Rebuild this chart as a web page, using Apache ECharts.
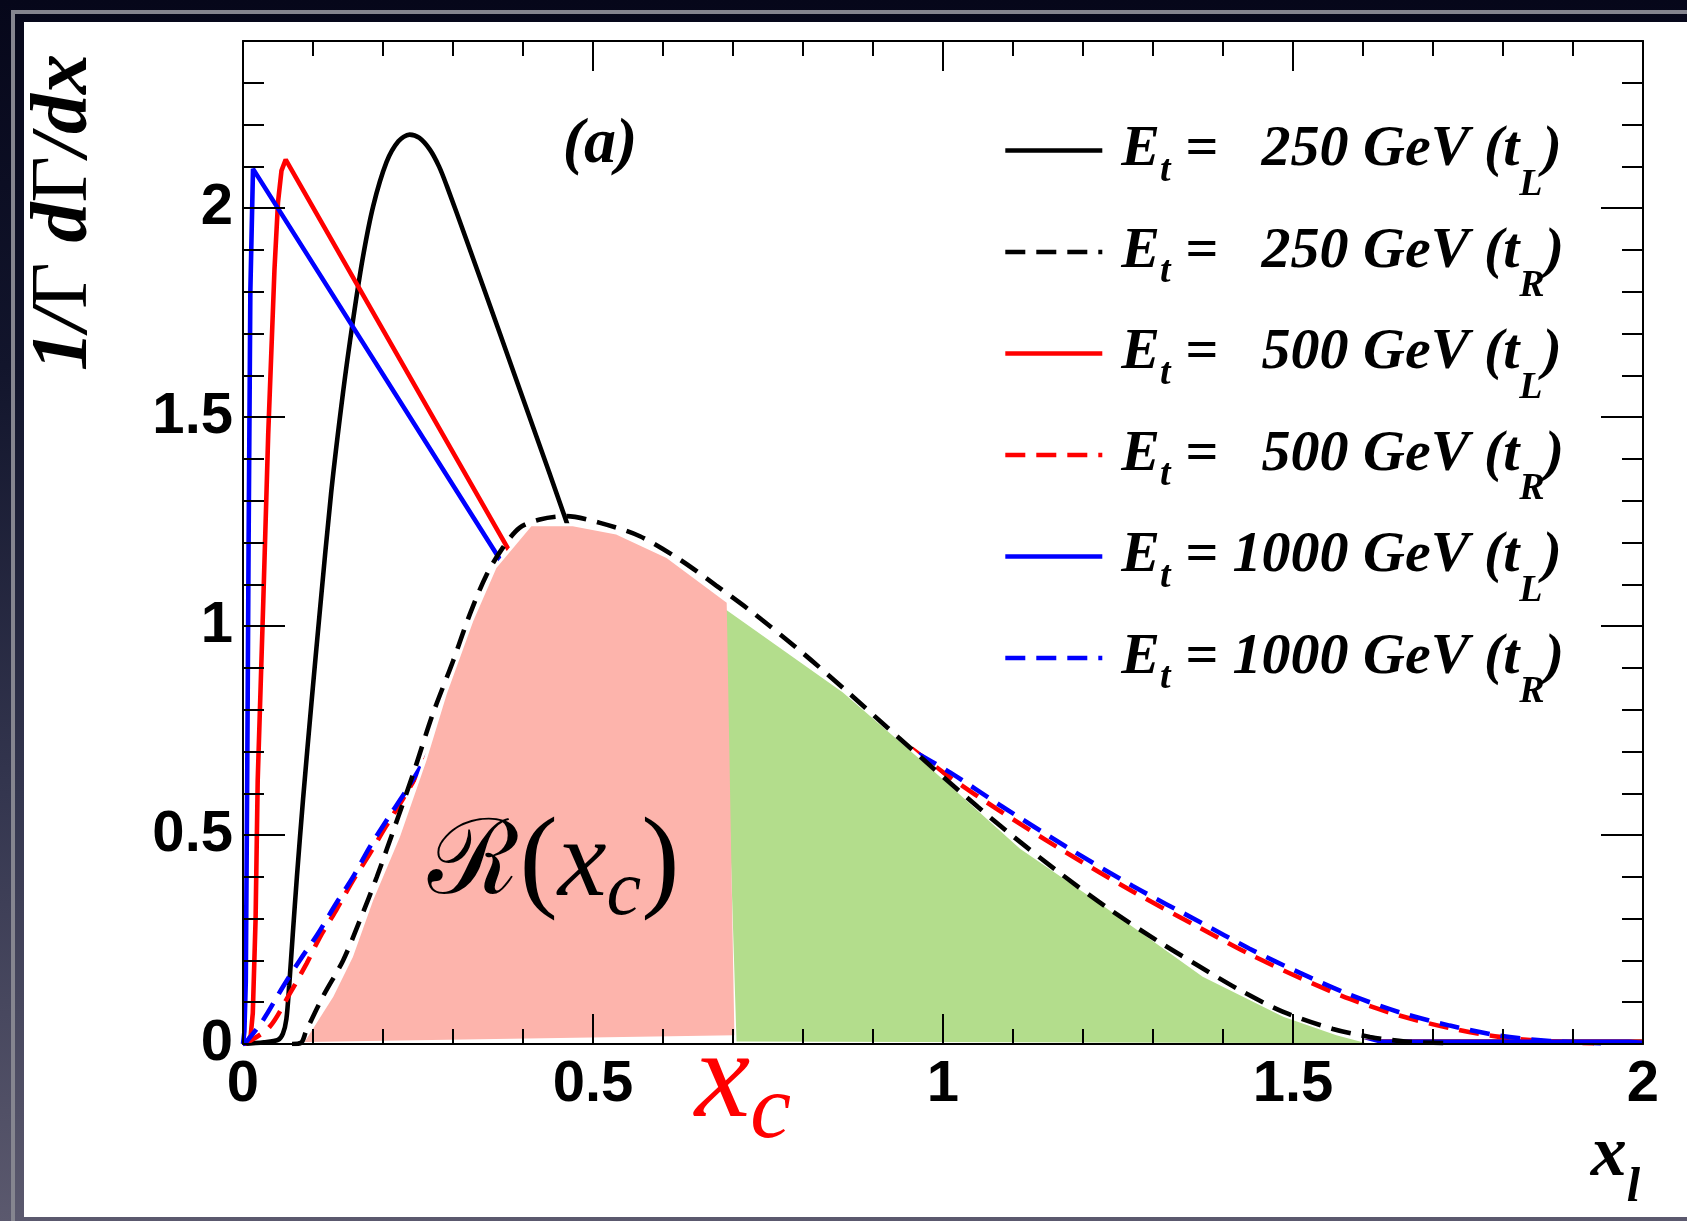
<!DOCTYPE html>
<html><head><meta charset="utf-8">
<script src="https://cdn.jsdelivr.net/npm/echarts@6/dist/echarts.min.js"></script>
<style>
html,body{margin:0;padding:0;width:1687px;height:1221px;overflow:hidden;}
body{background:linear-gradient(180deg,#06071a 0%,#12152c 30%,#34364f 65%,#5b596e 100%);position:relative;}
#frame{position:absolute;left:11px;top:10px;right:0;bottom:0;border-left:4px solid #85858f;border-top:4px solid #85858f;}
#paper{position:absolute;left:24px;top:22px;width:1663px;height:1195px;background:#fff;}
#chart{position:absolute;left:0;top:0;width:1687px;height:1221px;}
</style></head><body>
<div id="frame"></div><div id="paper"></div><div id="chart"></div>
<script>
// ---- tick labels ----
const xTickLabels = ['0', '0.5', '1', '1.5', '2'];
const yTickLabels = ['0', '0.5', '1', '1.5', '2'];

// ---- series names (legend order) ----
const names = ['E_t = 250 GeV (t_L)', 'E_t = 250 GeV (t_R)', 'E_t = 500 GeV (t_L)',
               'E_t = 500 GeV (t_R)', 'E_t = 1000 GeV (t_L)', 'E_t = 1000 GeV (t_R)'];
const legendNum = ['  250', '  250', '  500', '  500', '1000', '1000'];
const legendSub = ['L', 'R', 'L', 'R', 'L', 'R'];

// ---- E_t = 250 GeV (t_L), black solid ----
const x250L = [0, 0.03, 0.05, 0.057, 0.062, 0.066, 0.071, 0.077, 0.086, 0.098, 0.110, 0.126, 0.143, 0.157, 0.171, 0.186, 0.205, 0.222, 0.238, 0.252, 0.267, 0.280, 0.291, 0.319, 0.367, 0.414, 0.460, 0.50, 0.55, 0.60, 0.65, 0.70, 0.75, 0.80, 2.0];
const y250L = [0, 0.004, 0.010, 0.025, 0.06, 0.14, 0.26, 0.40, 0.59, 0.82, 1.04, 1.32, 1.56, 1.73, 1.88, 2.005, 2.11, 2.16, 2.176, 2.168, 2.140, 2.100, 2.054, 1.925, 1.700, 1.478, 1.260, 1.06, 0.80, 0.52, 0.28, 0.10, 0.02, 0.005, 0.005];

// ---- E_t = 250 GeV (t_R), black dashed ----
const x250R = [0.07, 0.083, 0.09, 0.114, 0.143, 0.167, 0.191, 0.221, 0.243, 0.271, 0.300, 0.324, 0.348, 0.371, 0.395, 0.424, 0.462, 0.510, 0.567, 0.624, 0.676, 0.730, 0.800, 0.860, 0.920, 0.986, 1.050, 1.100, 1.167, 1.238, 1.310, 1.360, 1.424, 1.486, 1.557, 1.610, 1.660, 1.720];
const y250R = [0, 0.003, 0.030, 0.113, 0.200, 0.296, 0.399, 0.540, 0.646, 0.789, 0.916, 1.028, 1.123, 1.187, 1.235, 1.255, 1.263, 1.247, 1.215, 1.159, 1.097, 1.030, 0.935, 0.848, 0.758, 0.660, 0.567, 0.497, 0.409, 0.322, 0.243, 0.192, 0.129, 0.077, 0.036, 0.017, 0.006, 0.002];

// ---- E_t = 500 GeV (t_L), red solid ----
const x500L = [0, 0.006, 0.011, 0.014, 0.018, 0.021, 0.029, 0.036, 0.045, 0.050, 0.055, 0.061, 0.380, 0.50, 0.60, 0.70, 0.75, 0.80, 0.82, 2.0];
const y500L = [0, 0.005, 0.02, 0.074, 0.30, 0.63, 1.06, 1.458, 1.855, 2.014, 2.09, 2.116, 1.181, 0.83, 0.537, 0.244, 0.10, 0.01, 0.005, 0.005];

// ---- E_t = 500 GeV (t_R), red dashed ----
const x500R = [0, 0.005, 0.038, 0.067, 0.091, 0.110, 0.133, 0.157, 0.181, 0.205, 0.229, 0.255, 0.274, 0.30, 0.35, 0.40, 0.45, 0.50, 0.55, 0.60, 0.65, 0.70, 0.75, 0.80, 0.87, 0.933, 1.010, 1.081, 1.176, 1.271, 1.367, 1.438, 1.510, 1.581, 1.652, 1.724, 1.795, 1.867, 1.930];
const y500R = [0, 0.002, 0.041, 0.121, 0.193, 0.256, 0.320, 0.391, 0.455, 0.523, 0.588, 0.662, 0.726, 0.80, 0.93, 1.03, 1.09, 1.11, 1.10, 1.07, 1.02, 0.97, 0.92, 0.87, 0.79, 0.733, 0.638, 0.558, 0.458, 0.365, 0.278, 0.215, 0.158, 0.108, 0.068, 0.038, 0.017, 0.006, 0.002];

// ---- E_t = 1000 GeV (t_L), blue solid ----
const x1000L = [0, 0.002, 0.004, 0.006, 0.008, 0.0105, 0.0143, 0.368, 0.60, 0.75, 0.80, 0.82, 1.98, 2.0];
const y1000L = [0, 0.03, 0.15, 0.63, 1.20, 1.80, 2.094, 1.157, 0.543, 0.15, 0.02, 0.005, 0.005, 0.003];

// ---- E_t = 1000 GeV (t_R), blue dashed ----
const x1000R = [0, 0.003, 0.0286, 0.0571, 0.081, 0.107, 0.133, 0.157, 0.181, 0.205, 0.233, 0.260, 0.30, 0.35, 0.40, 0.45, 0.50, 0.55, 0.60, 0.65, 0.70, 0.75, 0.80, 0.88, 0.957, 1.010, 1.081, 1.176, 1.271, 1.367, 1.438, 1.510, 1.581, 1.652, 1.724, 1.795, 1.867, 1.940];
const y1000R = [0, 0.002, 0.057, 0.137, 0.200, 0.264, 0.336, 0.399, 0.471, 0.535, 0.606, 0.680, 0.79, 0.92, 1.02, 1.08, 1.10, 1.09, 1.06, 1.01, 0.96, 0.91, 0.86, 0.78, 0.702, 0.650, 0.572, 0.472, 0.378, 0.292, 0.228, 0.170, 0.118, 0.076, 0.044, 0.020, 0.007, 0.002];

// ---- shaded regions R(x_c) (pink) and remainder (green) ----
const pinkX = [0.088, 0.129, 0.157, 0.186, 0.224, 0.262, 0.291, 0.329, 0.362, 0.412, 0.471, 0.533, 0.605, 0.691, 0.702];
const pinkY = [0.005, 0.113, 0.208, 0.344, 0.495, 0.678, 0.837, 1.012, 1.139, 1.239, 1.239, 1.219, 1.163, 1.056, 0.021];
const greenX = [0.686, 0.857, 0.986, 1.110, 1.224, 1.295, 1.371, 1.486, 1.562, 1.605, 0.705];
const greenY = [1.044, 0.841, 0.654, 0.467, 0.336, 0.252, 0.161, 0.065, 0.021, 0.002, 0.006];

const DASH = [20, 11];
const LW = 4.6;
const PINK = '#fdb4ac', GREEN = '#b3dd8c';

function lineSeries(name, xs, ys, color, dashed, z, smooth) {
  return {
    type: 'line', name: name, data: xs.map((x, i) => [x, ys[i]]),
    showSymbol: false, symbol: 'none', z: z, smooth: smooth,
    lineStyle: { color: color, width: LW, type: dashed ? DASH : 'solid' },
    itemStyle: { color: color }, silent: true
  };
}

const axisLineStyle = { color: '#000', width: 2 };
const labelFont = { fontFamily: 'Liberation Sans', fontWeight: 'bold', fontSize: 58, color: '#000' };
const serifBI = { fontFamily: 'Liberation Serif', fontWeight: 'bold', fontStyle: 'italic' };

function yLabel(v) {
  const k = Math.round(v / 0.5);
  return (Math.abs(v - k * 0.5) < 1e-6 && k < yTickLabels.length) ? yTickLabels[k] : '';
}
function xLabel(v) {
  const k = Math.round(v / 0.5);
  return (Math.abs(v - k * 0.5) < 1e-6 && k < xTickLabels.length) ? xTickLabels[k] : '';
}
function xAxisDef(pos, showLabel) {
  return {
    type: 'value', min: 0, max: 2, interval: 0.5, position: pos, z: 10,
    axisLine: { show: true, onZero: false, lineStyle: axisLineStyle },
    axisTick: { show: true, inside: true, length: 30, lineStyle: axisLineStyle },
    minorTick: { show: true, splitNumber: 5, length: 15, lineStyle: axisLineStyle },
    splitLine: { show: false }, minorSplitLine: { show: false },
    axisLabel: Object.assign({ show: showLabel, margin: 12, formatter: xLabel }, labelFont)
  };
}
function yAxisDef(pos, interval, len, showLine, showLabel) {
  return {
    type: 'value', min: 0, max: 2.4, interval: interval, position: pos, z: 10,
    axisLine: { show: showLine, onZero: false, lineStyle: axisLineStyle },
    axisTick: { show: true, inside: true, length: len, lineStyle: axisLineStyle },
    splitLine: { show: false },
    axisLabel: Object.assign({ show: showLabel, margin: 10, formatter: yLabel }, labelFont)
  };
}

const legendRich = {
  m: Object.assign({ fontSize: 58, lineHeight: 72, color: '#000' }, serifBI),
  s1: Object.assign({ fontSize: 38, lineHeight: 72, color: '#000', padding: [41, 0, 0, 0] }, serifBI),
  s2: Object.assign({ fontSize: 38, lineHeight: 72, color: '#000', padding: [69, 0, 0, 0] }, serifBI)
};

const chart = echarts.init(document.getElementById('chart'), null, { renderer: 'canvas' });
chart.setOption({
  animation: false,
  backgroundColor: 'transparent',
  grid: { left: 243, top: 41, width: 1400, height: 1003, containLabel: false, outerBoundsMode: 'none' },
  xAxis: [xAxisDef('bottom', true), xAxisDef('top', false)],
  yAxis: [
    yAxisDef('left', 0.5, 42, true, true),
    yAxisDef('left', 0.1, 21, false, false),
    yAxisDef('right', 0.5, 42, true, false),
    yAxisDef('right', 0.1, 21, false, false)
  ],
  legend: {
    orient: 'vertical', left: 1003, top: 97, padding: 0, itemGap: -5.5,
    itemWidth: 97, itemHeight: 24, selectedMode: false,
    data: names,
    itemStyle: { opacity: 0, borderWidth: 0 },
    lineStyle: { width: LW },
    formatter: function (name) {
      const i = names.indexOf(name);
      return '{m|E}{s1|t}{m| = ' + legendNum[i] + ' GeV (t}{s2|' + legendSub[i] + '}{m|)}';
    },
    textStyle: { padding: [0, 0, 0, 14], rich: legendRich }
  },
  series: [
    lineSeries(names[0], x250L, y250L, '#000000', false, 2, 0.3),
    lineSeries(names[2], x500L, y500L, '#ff0000', false, 2, false),
    lineSeries(names[3], x500R, y500R, '#ff0000', true, 2, 0.3),
    lineSeries(names[5], x1000R, y1000R, '#0000ff', true, 2, 0.3),
    lineSeries(names[4], x1000L, y1000L, '#0000ff', false, 2, false),
    {
      type: 'custom', name: 'regions', z: 3, silent: true, data: [[0, 0]],
      renderItem: function (params, api) {
        const pts = (xs, ys) => xs.map((x, i) => api.coord([x, ys[i]]));
        const pink = pts(pinkX, pinkY);
        const green = pts(greenX, greenY);
        const union = pink.slice(0, pink.length - 1).concat(green.slice(1), [pink[pink.length - 1]]);
        return {
          type: 'group',
          children: [
            { type: 'polygon', shape: { points: union }, style: { fill: '#ffffff', stroke: '#ffffff', lineWidth: 6 } },
            { type: 'polygon', shape: { points: green }, style: { fill: GREEN } },
            { type: 'polygon', shape: { points: pink }, style: { fill: PINK } }
          ]
        };
      }
    },
    lineSeries(names[1], x250R, y250R, '#000000', true, 4, 0.3)
  ],
  graphic: [
    { type: 'text', x: 65, y: 54, rotation: Math.PI / 2, z: 50,
      style: { text: '{b|1/}{g|Γ}{b| d}{g|Γ}{b|/dx}', align: 'right', verticalAlign: 'middle',
        rich: {
          b: Object.assign({ fontSize: 80, lineHeight: 90, fill: '#000' }, serifBI),
          g: { fontFamily: 'Liberation Serif', fontSize: 80, lineHeight: 90, fill: '#000' }
        } } },
    { type: 'text', x: 1640, y: 1156, z: 50,
      style: { text: '{m|x}{s|l}', align: 'right', verticalAlign: 'middle',
        rich: {
          m: Object.assign({ fontSize: 72, lineHeight: 90, fill: '#000' }, serifBI),
          s: Object.assign({ fontSize: 48, lineHeight: 90, fill: '#000', padding: [66, 0, 0, 0] }, serifBI)
        } } },
    { type: 'text', x: 600, y: 145, z: 50,
      style: Object.assign({ text: '(a)', align: 'center', verticalAlign: 'middle', fontSize: 64, fill: '#000' }, serifBI) },
    { type: 'text', x: 554, y: 866, z: 50,
      style: { text: '{r|ℛ}{p|(}{i|x}{c|c}{p|)}', align: 'center', verticalAlign: 'middle',
        rich: {
          r: { fontFamily: 'DejaVu Serif', fontSize: 104, lineHeight: 130, fill: '#000' },
          p: { fontFamily: 'Liberation Serif', fontSize: 115, lineHeight: 130, fill: '#000' },
          i: { fontFamily: 'Liberation Serif', fontStyle: 'italic', fontSize: 110, lineHeight: 130, fill: '#000' },
          c: { fontFamily: 'Liberation Serif', fontStyle: 'italic', fontSize: 78, lineHeight: 130, fill: '#000', padding: [55, 0, 0, 0] }
        } } },
    { type: 'text', x: 743, y: 1083, z: 50,
      style: { text: '{i|x}{c|c}', align: 'center', verticalAlign: 'middle',
        rich: {
          i: { fontFamily: 'Liberation Serif', fontStyle: 'italic', fontSize: 125, lineHeight: 140, fill: '#ff0000' },
          c: { fontFamily: 'Liberation Serif', fontStyle: 'italic', fontSize: 92, lineHeight: 140, fill: '#ff0000', padding: [60, 0, 0, 0] }
        } } }
  ]
});
</script></body></html>
